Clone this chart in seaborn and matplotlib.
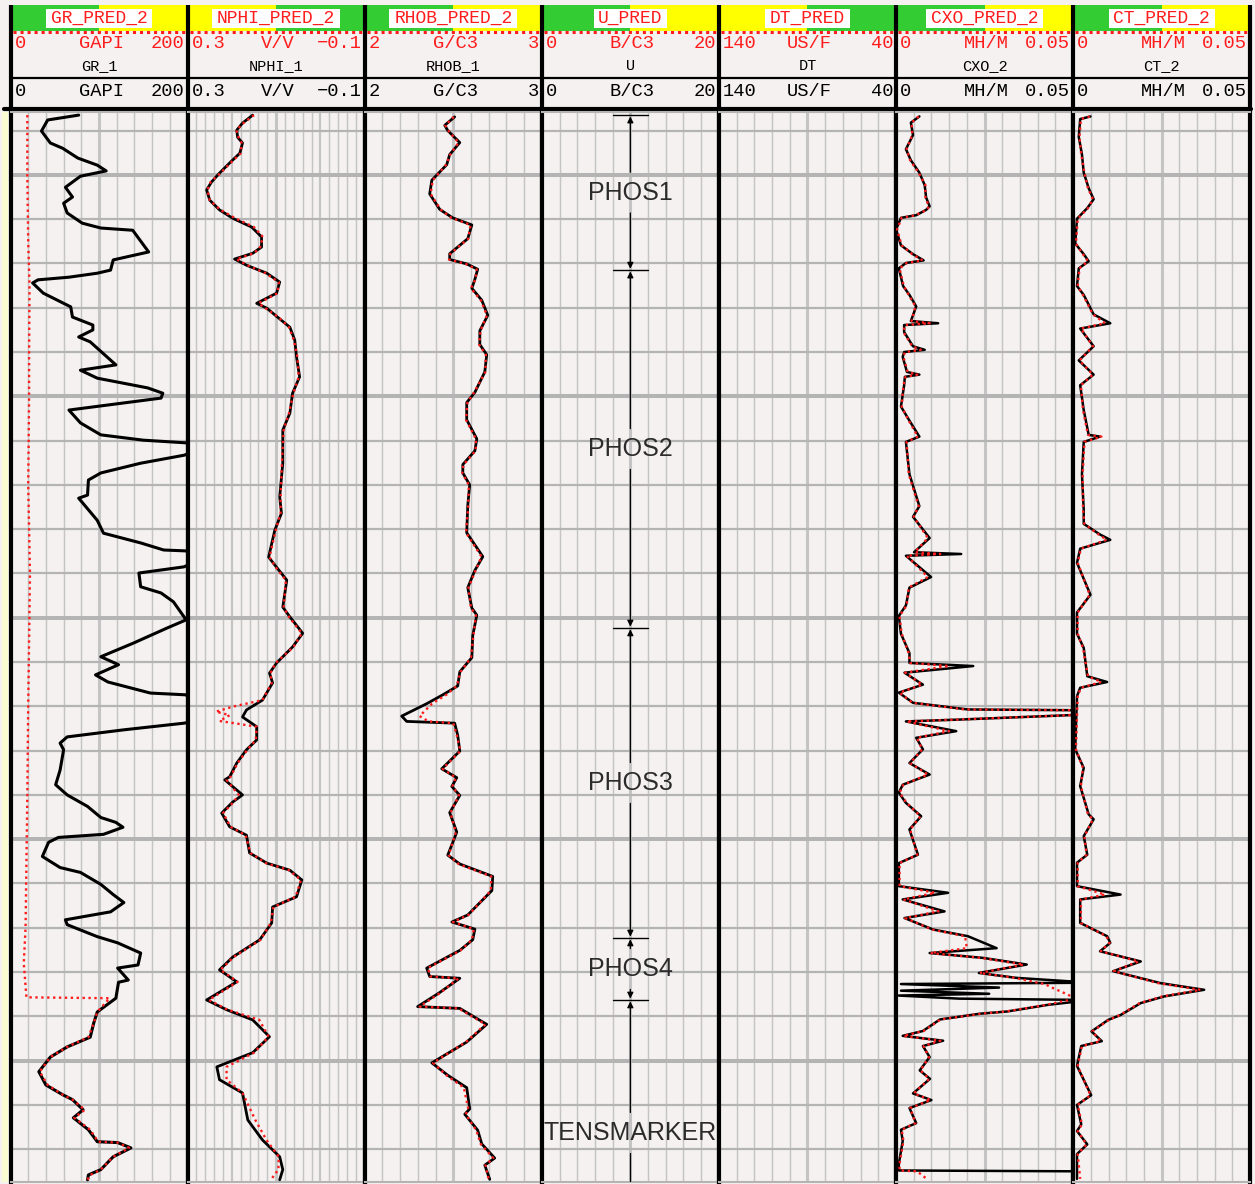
import matplotlib
matplotlib.use("Agg")
import matplotlib.pyplot as plt
from matplotlib.patches import Rectangle
import numpy as np
import pandas as pd
import seaborn as sns

sns.set_theme(style="white")
plt.rcParams["font.family"] = ["Liberation Sans", "DejaVu Sans"]

# ---------------------------------------------------------------- header data
track_pred = ["GR_PRED_2", "NPHI_PRED_2", "RHOB_PRED_2", "U_PRED", "DT_PRED", "CXO_PRED_2", "CT_PRED_2"]
track_curve = ["GR_1", "NPHI_1", "RHOB_1", "U", "DT", "CXO_2", "CT_2"]
track_unit = ["GAPI", "V/V", "G/C3", "B/C3", "US/F", "MH/M", "MH/M"]
track_left = [0, 0.3, 2, 0, 140, 0, 0]
track_right = [200, -0.1, 3, 20, 40, 0.05, 0.05]
track_left_lbl = ["0", "0.3", "2", "0", "140", "0", "0"]
track_right_lbl = ["200", "\u22120.1", "3", "20", "40", "0.05", "0.05"]
track_divisions = [10, 20, 10, 10, 10, 10, 10]
bar_green_first = [True, False, True, True, False, True, True]

# ---------------------------------------------------------------- formation tops
zone_names = ["PHOS1", "PHOS2", "PHOS3", "PHOS4", "TENSMARKER"]
zone_top = [1436.5, 1471.5, 1552.3, 1622.3, 1636.3]
zone_base = [1471.5, 1552.3, 1622.3, 1636.3, 1696.3]

# ---------------------------------------------------------------- GR
gr_depth = [1436.5, 1437.6, 1440.1, 1442.8, 1444.0, 1446.2, 1447.8, 1449.1, 1450.3, 1452.8,
            1455.0, 1456.4, 1458.6, 1460.9, 1462.0, 1462.5, 1467.4, 1469.2, 1471.5, 1472.2,
            1473.1, 1473.7, 1474.4, 1476.7, 1479.8, 1482.1, 1483.9, 1485.0, 1486.6, 1487.7,
            1492.9, 1494.1, 1495.9, 1498.1, 1499.3, 1500.4, 1503.1, 1506.0, 1508.7, 1509.9,
            1510.5, 1511.9, 1513.3, 1515.1, 1517.3, 1518.9, 1522.3, 1523.0, 1528.0, 1530.9,
            1533.1, 1534.7, 1534.9, 1536.7, 1538.5, 1539.9, 1543.0, 1544.4, 1546.4, 1549.8,
            1550.5, 1552.3, 1555.7, 1558.8, 1560.6, 1562.9, 1564.5, 1567.0, 1567.4, 1570.0,
            1573.0, 1573.8, 1575.3, 1576.9, 1578.3, 1579.8, 1584.4, 1587.7, 1590.0, 1592.6,
            1595.1, 1596.2, 1597.3, 1598.9, 1599.6, 1600.7, 1603.9, 1606.4, 1607.5, 1610.2,
            1612.5, 1614.3, 1616.4, 1618.2, 1619.3, 1622.0, 1623.4, 1625.0, 1625.7, 1628.4,
            1629.1, 1631.8, 1632.3, 1635.9, 1639.0, 1641.5, 1644.7, 1646.9, 1649.2, 1652.5,
            1655.5, 1657.7, 1658.8, 1661.1, 1662.9, 1665.6, 1668.3, 1668.5, 1669.7, 1671.7,
            1674.6, 1675.8, 1676.9]
gr_1 = [77, 42, 35, 45, 59, 76, 98, 108, 79, 62,
        70, 60, 64, 81, 102, 138, 156, 116, 113, 98,
        66, 31, 25, 37, 68, 70, 93, 93, 77, 90,
        119, 79, 98, 155, 172, 170, 66, 79, 102, 150,
        198, 215, 196, 147, 102, 88, 87, 77, 98, 105,
        147, 173, 198, 215, 196, 145, 147, 170, 184, 196,
        198, 177, 139, 102, 122, 96, 110, 158, 198, 215,
        215, 196, 128, 64, 56, 60, 56, 51, 64, 87,
        102, 119, 127, 105, 54, 43, 36, 56, 79, 102,
        116, 128, 113, 62, 64, 98, 121, 139, 147, 144,
        121, 133, 122, 119, 98, 94, 90, 64, 45, 32,
        40, 59, 70, 82, 71, 88, 98, 121, 136, 116,
        102, 88, 87]
gr_pred_depth = [1436.5, 1450, 1465, 1475, 1490, 1500, 1520, 1540, 1555, 1570,
                 1590, 1605, 1620, 1628, 1635.7, 1635.9, 1639.0, 1641.5, 1644.7, 1646.9,
                 1649.2, 1652.5, 1655.5, 1657.7, 1658.8, 1661.1, 1662.9, 1665.6, 1668.3, 1668.5,
                 1669.7, 1671.7, 1674.6, 1675.8, 1676.9]
gr_pred_2 = [19, 19, 20, 21.5, 21, 21, 20, 22, 21, 20,
             19, 18, 17, 15, 18, 112, 98, 94, 88, 64,
             45, 33, 42, 59, 70, 84, 72, 90, 99, 121,
             134, 116, 102, 90, 87]

# ---------------------------------------------------------------- NPHI
nphi_depth = [1436.5, 1438.3, 1439.9, 1441.5, 1442.8, 1445.1, 1447.3, 1449.6, 1451.6, 1453.4,
              1455.7, 1457.9, 1459.8, 1461.8, 1464.0, 1466.3, 1467.7, 1469.0, 1470.4, 1472.2,
              1474.2, 1476.7, 1479.0, 1480.1, 1482.1, 1484.4, 1487.3, 1491.1, 1495.6, 1499.3,
              1503.8, 1507.6, 1515.1, 1522.7, 1526.4, 1530.2, 1536.3, 1538.6, 1541.5, 1547.6,
              1549.8, 1553.5, 1556.6, 1560.2, 1562.5, 1564.7, 1568.6, 1570.8, 1572.4, 1574.6,
              1577.6, 1579.8, 1582.8, 1585.9, 1586.6, 1590.0, 1591.6, 1594.1, 1597.2, 1599.1,
              1603.1, 1605.4, 1607.0, 1609.2, 1613.0, 1615.3, 1618.9, 1622.7, 1626.6, 1629.5,
              1632.2, 1636.3, 1638.5, 1640.8, 1644.6, 1648.2, 1651.4, 1654.3, 1657.3, 1663.4,
              1667.9, 1671.7, 1674.6, 1676.9]
nphi_1 = [0.153, 0.176, 0.189, 0.187, 0.176, 0.182, 0.205, 0.228, 0.246, 0.257,
          0.250, 0.228, 0.198, 0.155, 0.133, 0.133, 0.153, 0.194, 0.167, 0.121,
          0.092, 0.099, 0.144, 0.121, 0.097, 0.069, 0.058, 0.054, 0.047, 0.063,
          0.069, 0.085, 0.085, 0.092, 0.088, 0.103, 0.117, 0.099, 0.076, 0.085,
          0.069, 0.040, 0.063, 0.099, 0.115, 0.108, 0.131, 0.167, 0.176, 0.144,
          0.144, 0.167, 0.189, 0.205, 0.216, 0.176, 0.198, 0.223, 0.205, 0.167,
          0.160, 0.121, 0.069, 0.042, 0.054, 0.108, 0.110, 0.137, 0.198, 0.228,
          0.189, 0.257, 0.212, 0.153, 0.115, 0.153, 0.234, 0.228, 0.176, 0.164,
          0.131, 0.092, 0.085, 0.092]
nphi_pred_depth = [1436.5, 1438.3, 1439.9, 1441.5, 1442.8, 1445.1, 1447.3, 1449.6, 1451.6, 1453.4,
                   1455.7, 1457.9, 1459.8, 1461.8, 1464.0, 1466.3, 1467.7, 1469.0, 1470.4, 1472.2,
                   1474.2, 1476.7, 1479.0, 1480.1, 1482.1, 1484.4, 1487.3, 1491.1, 1495.6, 1499.3,
                   1503.8, 1507.6, 1515.1, 1522.7, 1526.4, 1530.2, 1536.3, 1538.6, 1541.5, 1547.6,
                   1549.8, 1553.5, 1556.6, 1560.2, 1562.5, 1564.7, 1568.6, 1570.0, 1571.2, 1572.0,
                   1573.3, 1574.0, 1574.6, 1577.6, 1579.8, 1582.8, 1585.9, 1586.6, 1590.0, 1591.6,
                   1594.1, 1597.2, 1599.1, 1603.1, 1605.4, 1607.0, 1609.2, 1613.0, 1615.3, 1618.9,
                   1622.7, 1626.6, 1629.5, 1632.2, 1636.3, 1638.5, 1640.8, 1644.6, 1648.2, 1651.4,
                   1654.3, 1657.3, 1663.4, 1667.9, 1671.7, 1674.6, 1676.9]
nphi_pred_2 = [0.150, 0.174, 0.190, 0.185, 0.178, 0.180, 0.203, 0.226, 0.248, 0.255,
               0.250, 0.226, 0.192, 0.150, 0.130, 0.136, 0.150, 0.190, 0.165, 0.124,
               0.094, 0.097, 0.140, 0.124, 0.095, 0.071, 0.060, 0.052, 0.049, 0.061,
               0.071, 0.083, 0.087, 0.090, 0.090, 0.101, 0.115, 0.101, 0.078, 0.083,
               0.071, 0.042, 0.061, 0.101, 0.113, 0.110, 0.131, 0.195, 0.236, 0.205,
               0.228, 0.182, 0.144, 0.146, 0.165, 0.187, 0.203, 0.212, 0.185, 0.196,
               0.220, 0.203, 0.169, 0.158, 0.123, 0.071, 0.044, 0.056, 0.106, 0.112,
               0.135, 0.196, 0.226, 0.187, 0.252, 0.210, 0.138, 0.117, 0.150, 0.212,
               0.212, 0.176, 0.147, 0.122, 0.094, 0.095, 0.112]

# ---------------------------------------------------------------- RHOB
rhob_depth = [1436.9, 1438.8, 1440.0, 1442.7, 1445.4, 1447.7, 1451.2, 1454.3, 1457.8, 1459.7,
              1461.3, 1464.4, 1467.8, 1469.1, 1470.1, 1471.3, 1473.6, 1475.6, 1478.3, 1481.7,
              1485.2, 1488.3, 1490.6, 1494.5, 1499.1, 1501.4, 1505.3, 1509.6, 1512.3, 1515.4,
              1517.3, 1520.0, 1524.6, 1530.8, 1536.2, 1539.3, 1543.2, 1547.8, 1549.4, 1554.0,
              1559.0, 1562.2, 1565.4, 1567.4, 1569.4, 1572.2, 1573.4, 1573.8, 1576.5, 1580.1,
              1584.1, 1586.1, 1588.1, 1590.1, 1594.0, 1598.4, 1603.6, 1605.6, 1608.4, 1611.6,
              1617.1, 1618.7, 1620.3, 1622.7, 1625.1, 1629.1, 1631.0, 1631.4, 1634.6, 1637.8,
              1638.2, 1641.8, 1645.8, 1650.5, 1653.3, 1656.1, 1660.9, 1662.1, 1665.7, 1668.8,
              1672.0, 1673.6, 1676.8]
rhob_1 = [2.508, 2.452, 2.469, 2.537, 2.480, 2.463, 2.379, 2.367, 2.424, 2.497,
          2.605, 2.582, 2.480, 2.480, 2.576, 2.638, 2.622, 2.605, 2.661, 2.695,
          2.650, 2.650, 2.689, 2.678, 2.622, 2.576, 2.576, 2.633, 2.622, 2.554,
          2.554, 2.593, 2.582, 2.576, 2.667, 2.622, 2.582, 2.605, 2.633, 2.610,
          2.605, 2.537, 2.525, 2.441, 2.350, 2.209, 2.237, 2.508, 2.525, 2.537,
          2.435, 2.520, 2.492, 2.537, 2.480, 2.520, 2.469, 2.537, 2.723, 2.718,
          2.582, 2.492, 2.622, 2.610, 2.537, 2.350, 2.367, 2.537, 2.424, 2.299,
          2.537, 2.689, 2.576, 2.379, 2.469, 2.576, 2.593, 2.565, 2.638, 2.661,
          2.734, 2.678, 2.706]
rhob_pred_2 = [2.503, 2.455, 2.472, 2.530, 2.483, 2.460, 2.384, 2.372, 2.428, 2.490,
               2.598, 2.585, 2.484, 2.476, 2.570, 2.632, 2.625, 2.600, 2.656, 2.690,
               2.654, 2.646, 2.684, 2.681, 2.618, 2.580, 2.572, 2.628, 2.626, 2.558,
               2.551, 2.588, 2.585, 2.572, 2.660, 2.626, 2.586, 2.600, 2.628, 2.614,
               2.600, 2.541, 2.520, 2.460, 2.380, 2.310, 2.360, 2.500, 2.520, 2.540,
               2.440, 2.515, 2.496, 2.532, 2.484, 2.515, 2.474, 2.530, 2.715, 2.712,
               2.586, 2.498, 2.616, 2.606, 2.541, 2.356, 2.372, 2.530, 2.430, 2.310,
               2.530, 2.682, 2.572, 2.386, 2.462, 2.560, 2.585, 2.570, 2.630, 2.655,
               2.726, 2.682, 2.700]

# ---------------------------------------------------------------- CXO
cxo_depth = [1436.8, 1438.2, 1441.0, 1444.2, 1446.7, 1449.5, 1452.3, 1455.1, 1457.1, 1457.9,
             1459.1, 1459.7, 1462.3, 1465.9, 1467.9, 1469.3, 1469.9, 1471.1, 1475.1, 1477.1,
             1479.7, 1483.0, 1483.5, 1483.9, 1485.5, 1488.7, 1489.5, 1490.0, 1491.1, 1494.5,
             1495.1, 1495.6, 1497.5, 1502.3, 1505.5, 1509.1, 1510.3, 1517.6, 1524.8, 1527.2,
             1532.0, 1535.2, 1535.6, 1536.0, 1540.8, 1543.2, 1547.2, 1549.6, 1553.6, 1558.0,
             1560.2, 1560.9, 1562.4, 1565.1, 1566.9, 1569.2, 1570.7, 1570.9, 1571.8, 1573.0,
             1573.4, 1575.6, 1577.1, 1579.7, 1582.8, 1585.4, 1587.7, 1589.5, 1591.8, 1594.8,
             1597.8, 1603.5, 1605.4, 1610.6, 1612.1, 1613.6, 1616.3, 1617.8, 1620.4, 1621.9,
             1624.6, 1625.7, 1626.8, 1628.3, 1630.2, 1631.3, 1632.4, 1632.7, 1633.5, 1634.2,
             1634.9, 1635.3, 1636.0, 1636.3, 1637.4, 1638.9, 1639.4, 1640.7, 1643.3, 1644.4,
             1645.5, 1646.7, 1649.2, 1652.2, 1654.1, 1657.4, 1658.9, 1660.7, 1664.1, 1665.6,
             1668.1, 1673.3, 1674.8, 1675.0, 1676.9]
cxo_2 = [0.0066, 0.0042, 0.0048, 0.0028, 0.0042, 0.0066, 0.0081, 0.0085, 0.0095, 0.0085,
         0.0057, 0.0014, 0.0, 0.0014, 0.0048, 0.0078, 0.0028, 0.0008, 0.0020, 0.0038,
         0.0057, 0.0042, 0.0119, 0.0023, 0.0023, 0.0048, 0.0081, 0.0023, 0.0019, 0.0031,
         0.0066, 0.0025, 0.0023, 0.0014, 0.0038, 0.0066, 0.0028, 0.0038, 0.0066, 0.0048,
         0.0095, 0.0051, 0.0184, 0.0028, 0.0099, 0.0038, 0.0028, 0.0008, 0.0014, 0.0038,
         0.0038, 0.0218, 0.0024, 0.0076, 0.0008, 0.0048, 0.0203, 0.055, 0.055, 0.0175,
         0.0028, 0.0170, 0.0057, 0.0076, 0.0038, 0.0095, 0.0019, 0.0008, 0.0028, 0.0071,
         0.0038, 0.0062, 0.0008, 0.0008, 0.0147, 0.0019, 0.0137, 0.0024, 0.0105, 0.0203,
         0.0284, 0.0095, 0.0246, 0.0369, 0.0234, 0.0339, 0.055, 0.0014, 0.0291, 0.0014,
         0.0263, 0.0008, 0.0178, 0.055, 0.0429, 0.0314, 0.0237, 0.0124, 0.0076, 0.0019,
         0.0133, 0.0076, 0.0095, 0.0067, 0.0096, 0.0048, 0.0100, 0.0038, 0.0057, 0.0014,
         0.0019, 0.0008, 0.0008, 0.055, 0.055]
cxo_pred_2 = [0.0064, 0.0044, 0.0046, 0.0030, 0.0040, 0.0064, 0.0083, 0.0083, 0.0093, 0.0087,
              0.0055, 0.0016, 0.0003, 0.0016, 0.0046, 0.0075, 0.0030, 0.0010, 0.0022, 0.0036,
              0.0055, 0.0044, 0.0095, 0.0025, 0.0021, 0.0046, 0.0070, 0.0025, 0.0021, 0.0033,
              0.0060, 0.0027, 0.0021, 0.0016, 0.0036, 0.0062, 0.0030, 0.0036, 0.0064, 0.0050,
              0.0090, 0.0053, 0.0125, 0.0030, 0.0090, 0.0036, 0.0030, 0.0010, 0.0016, 0.0036,
              0.0040, 0.0150, 0.0026, 0.0074, 0.0010, 0.0046, 0.0195, 0.055, 0.055, 0.0170,
              0.0030, 0.0150, 0.0059, 0.0074, 0.0040, 0.0090, 0.0021, 0.0010, 0.0030, 0.0069,
              0.0040, 0.0060, 0.0010, 0.0010, 0.0110, 0.0021, 0.0120, 0.0026, 0.0102, 0.0195,
              0.0200, 0.0097, 0.0240, 0.0360, 0.0236, 0.0335, 0.0400, 0.0420, 0.0440, 0.0460,
              0.0480, 0.0490, 0.0500, 0.0490, 0.0425, 0.0310, 0.0240, 0.0126, 0.0078, 0.0021,
              0.0125, 0.0078, 0.0093, 0.0069, 0.0094, 0.0050, 0.0098, 0.0040, 0.0055, 0.0016,
              0.0021, 0.0010, 0.0010, 0.0060, 0.0090]

# ---------------------------------------------------------------- CT
ct_depth = [1436.8, 1437.4, 1441.4, 1445.4, 1449.5, 1453.0, 1455.5, 1457.5, 1459.9, 1465.5,
            1467.9, 1469.5, 1471.1, 1475.1, 1477.1, 1481.5, 1483.5, 1484.7, 1488.7, 1491.9,
            1495.1, 1497.5, 1503.1, 1508.7, 1509.1, 1510.3, 1517.6, 1525.6, 1528.8, 1531.2,
            1532.4, 1534.4, 1537.6, 1544.8, 1548.8, 1553.6, 1556.8, 1563.2, 1564.5, 1565.8,
            1567.7, 1579.7, 1583.9, 1588.0, 1594.4, 1595.5, 1599.3, 1603.5, 1605.3, 1610.6,
            1612.5, 1613.6, 1618.9, 1621.9, 1623.4, 1625.3, 1627.6, 1629.8, 1632.5, 1634.0,
            1635.5, 1637.0, 1639.7, 1640.8, 1643.4, 1645.6, 1646.7, 1651.2, 1657.8, 1660.0,
            1664.4, 1665.9, 1668.9, 1671.1, 1676.7]
ct_2 = [0.0049, 0.0020, 0.0016, 0.0025, 0.0030, 0.0044, 0.0058, 0.0040, 0.0011, 0.0006,
        0.0030, 0.0044, 0.0016, 0.0011, 0.0030, 0.0058, 0.0105, 0.0020, 0.0058, 0.0016,
        0.0058, 0.0020, 0.0030, 0.0044, 0.0076, 0.0030, 0.0025, 0.0030, 0.0030, 0.0076,
        0.0105, 0.0020, 0.0011, 0.0049, 0.0011, 0.0011, 0.0030, 0.0040, 0.0096, 0.0020,
        0.0011, 0.0006, 0.0030, 0.0020, 0.0044, 0.0058, 0.0030, 0.0040, 0.0011, 0.0011,
        0.0134, 0.0020, 0.0020, 0.0096, 0.0105, 0.0076, 0.0191, 0.0113, 0.0247, 0.0370,
        0.0257, 0.0191, 0.0134, 0.0099, 0.0052, 0.0081, 0.0023, 0.0011, 0.0051, 0.0011,
        0.0023, 0.0011, 0.0040, 0.0011, 0.0011]
ct_pred_2 = [0.0047, 0.0022, 0.0018, 0.0023, 0.0032, 0.0042, 0.0056, 0.0042, 0.0013, 0.0008,
             0.0028, 0.0042, 0.0018, 0.0013, 0.0028, 0.0056, 0.0090, 0.0022, 0.0056, 0.0018,
             0.0056, 0.0022, 0.0028, 0.0042, 0.0080, 0.0032, 0.0027, 0.0028, 0.0032, 0.0072,
             0.0095, 0.0022, 0.0013, 0.0047, 0.0013, 0.0013, 0.0028, 0.0042, 0.0080, 0.0022,
             0.0013, 0.0008, 0.0028, 0.0022, 0.0042, 0.0056, 0.0032, 0.0038, 0.0013, 0.0013,
             0.0090, 0.0022, 0.0022, 0.0094, 0.0103, 0.0078, 0.0185, 0.0115, 0.0240, 0.0360,
             0.0252, 0.0188, 0.0132, 0.0101, 0.0054, 0.0078, 0.0025, 0.0013, 0.0049, 0.0013,
             0.0025, 0.0013, 0.0038, 0.0013, 0.0020]

# ---------------------------------------------------------------- styling
W, H, DPI = 1255, 1184, 100
BG = "#f5f1f1"
GRID_H = "#b4b4b4"
GRID_V = "#c4c4c4"
RED = "#ff1c1c"
GREEN = "#33cc33"
YELLOW = "#ffff00"
DEPTH_TOP, DEPTH_BOT = 1435.8, 1677.4
PX_TOP, PX_BOT = 112, 1182
edges = [10.5 + 177.1 * i for i in range(8)]
MONO = ["Liberation Mono", "DejaVu Sans Mono"]

fig = plt.figure(figsize=(W / DPI, H / DPI), dpi=DPI)
fig.patch.set_facecolor(BG)

# full-figure pixel canvas for the header block
frame = fig.add_axes([0, 0, 1, 1], zorder=0)
frame.set_xlim(0, W)
frame.set_ylim(H, 0)
frame.axis("off")

frame.add_patch(Rectangle((2, PX_TOP), 6, PX_BOT - PX_TOP, color="#fbfbd2", lw=0))

for i in range(7):
    x0, x1 = edges[i], edges[i + 1]
    xm = (x0 + x1) / 2
    c1, c2 = (GREEN, YELLOW) if bar_green_first[i] else (YELLOW, GREEN)
    frame.add_patch(Rectangle((x0, 5), xm - x0, 26, color=c1, lw=0))
    frame.add_patch(Rectangle((xm, 5), x1 - xm, 26, color=c2, lw=0))
    bw = len(track_pred[i]) * 10.9 + 8
    frame.add_patch(Rectangle((xm - bw / 2, 9), bw, 18.5, color="white", lw=0))
    frame.text(xm, 18.5, track_pred[i], ha="center", va="center", color=RED,
               fontsize=13, family=MONO)
    frame.plot([x0 + 2, x1 - 2], [31.5, 31.5], color=RED, lw=2.2, ls=(0, (1, 1.3)))
    # predicted curve scale
    frame.text(x0 + 4, 44, track_left_lbl[i], ha="left", va="center", color=RED, fontsize=13.5, family=MONO)
    frame.text(xm + 2, 44, track_unit[i], ha="center", va="center", color=RED, fontsize=13.5, family=MONO)
    frame.text(x1 - 3, 44, track_right_lbl[i], ha="right", va="center", color=RED, fontsize=13.5, family=MONO)
    frame.text(xm, 66.5, track_curve[i], ha="center", va="center", color="black", fontsize=11, family=MONO)
    frame.plot([x0, x1], [78, 78], color="black", lw=1.6)
    # measured curve scale
    frame.text(x0 + 4, 92, track_left_lbl[i], ha="left", va="center", color="black", fontsize=13.5, family=MONO)
    frame.text(xm + 2, 92, track_unit[i], ha="center", va="center", color="black", fontsize=13.5, family=MONO)
    frame.text(x1 - 3, 92, track_right_lbl[i], ha="right", va="center", color="black", fontsize=13.5, family=MONO)

for x in edges:
    frame.plot([x, x], [5, 109], color="black", lw=3, solid_capstyle="butt")
frame.plot([4, edges[-1] + 1], [108.5, 108.5], color="black", lw=3)

# ---------------------------------------------------------------- tracks
track_axes = []
for i in range(7):
    x0, x1 = edges[i], edges[i + 1]
    ax = fig.add_axes([x0 / W, (H - PX_BOT) / H, (x1 - x0) / W, (PX_BOT - PX_TOP) / H], zorder=2)
    ax.set_facecolor(BG)
    lo, hi = track_left[i], track_right[i]
    n = track_divisions[i]
    for k, xv in enumerate(np.linspace(lo, hi, n + 1)[1:-1], start=1):
        if k * 2 == n:
            lw = 2.2
        elif n > 10 and k % 5 == 0:
            lw = 1.6
        else:
            lw = 1.05
        ax.axvline(xv, color=GRID_V, lw=lw, zorder=0)
    for d in range(1440, 1680, 10):
        ax.axhline(d, color=GRID_H, lw=2.9 if d % 50 == 0 else 1.6, zorder=0)
    ax.set_xlim(lo, hi)
    ax.set_ylim(DEPTH_BOT, DEPTH_TOP)
    track_axes.append(ax)

BLACK_KW = dict(color="black", lw=2.0, zorder=3, legend=False, estimator=None, sort=False, orient="y")
PRED_KW = dict(color=RED, lw=1.7, ls=(0, (1, 1.5)), zorder=4, legend=False, estimator=None, sort=False, orient="y")

curves = [
    (0, gr_depth, gr_1, gr_pred_depth, gr_pred_2, 2.2),
    (1, nphi_depth, nphi_1, nphi_pred_depth, nphi_pred_2, 2.0),
    (2, rhob_depth, rhob_1, rhob_depth, rhob_pred_2, 2.0),
    (5, cxo_depth, cxo_2, cxo_depth, cxo_pred_2, 1.8),
    (6, ct_depth, ct_2, ct_depth, ct_pred_2, 1.8),
]
for idx, d1, v1, d2, v2, lw in curves:
    ax = track_axes[idx]
    meas = pd.DataFrame({"depth": d1, "value": v1})
    pred = pd.DataFrame({"depth": d2, "value": v2})
    kw = dict(BLACK_KW)
    kw["lw"] = lw
    sns.lineplot(data=meas, x="value", y="depth", ax=ax, **kw)
    sns.lineplot(data=pred, x="value", y="depth", ax=ax, **PRED_KW)

# formation tops in the U track
axu = track_axes[3]
GAP = 4.6
for top in sorted(set(zone_top + zone_base[:-1])):
    axu.plot([8.0, 12.0], [top, top], color="black", lw=1.0, zorder=5)
for name, top, base in zip(zone_names, zone_top, zone_base):
    mid = (top + base) / 2
    axu.annotate("", xy=(10, top + 0.3), xytext=(10, mid - GAP),
                 arrowprops=dict(arrowstyle="-|>", color="black", lw=0.9,
                                 mutation_scale=9, shrinkA=0, shrinkB=0), zorder=5)
    if base <= DEPTH_BOT:
        axu.annotate("", xy=(10, base - 0.3), xytext=(10, mid + GAP),
                     arrowprops=dict(arrowstyle="-|>", color="black", lw=0.9,
                                     mutation_scale=9, shrinkA=0, shrinkB=0), zorder=5)
    else:
        axu.plot([10, 10], [mid + GAP, base], color="black", lw=0.9, zorder=5)
    axu.text(10, mid, name, ha="center", va="center", fontsize=18, color="#2b2b2b", zorder=6)

for ax in track_axes:
    ax.set_xlim(ax.get_xlim())
    ax.set_ylim(DEPTH_BOT, DEPTH_TOP)
    ax.set_xticks([])
    ax.set_yticks([])
    ax.set_xlabel("")
    ax.set_ylabel("")
    for side in ("left", "right"):
        ax.spines[side].set_color("black")
        ax.spines[side].set_linewidth(3)
    ax.spines["top"].set_color(GRID_H)
    ax.spines["top"].set_linewidth(1.5)
    ax.spines["bottom"].set_color(GRID_H)
    ax.spines["bottom"].set_linewidth(1.5)

fig.savefig("out.png", dpi=DPI, facecolor=BG)
